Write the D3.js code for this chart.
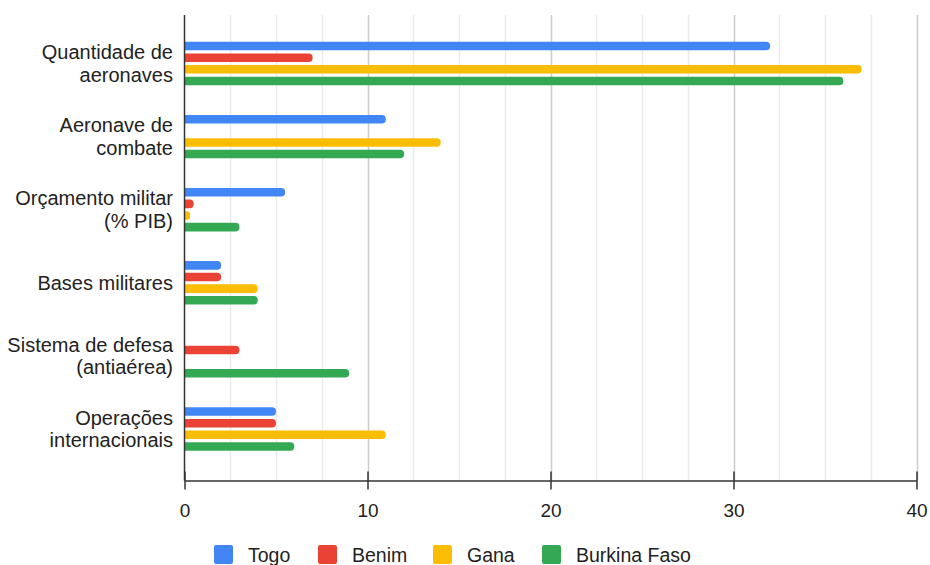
<!DOCTYPE html>
<html>
<head>
<meta charset="utf-8">
<script src="https://cdn.jsdelivr.net/npm/d3@7"></script>
<style>
  html, body { margin: 0; padding: 0; background: #fff; }
  svg { display: block; font-family: Arial, "Liberation Sans", sans-serif; }
</style>
</head>
<body>
<svg id="chart" width="930" height="565"></svg>
<script>
// Categories (each label split into display lines)
const categories = [
  ["Quantidade de", "aeronaves"],
  ["Aeronave de", "combate"],
  ["Orçamento militar", "(% PIB)"],
  ["Bases militares"],
  ["Sistema de defesa", "(antiaérea)"],
  ["Operações", "internacionais"]
];
const seriesNames = ["Togo", "Benim", "Gana", "Burkina Faso"];
const togo    = [32, 11, 5.5, 2, 0, 5];
const benim   = [7, 0, 0.5, 2, 3, 5];
const gana    = [37, 14, 0.3, 4, 0, 11];
const burkina = [36, 12, 3, 4, 9, 6];
const majorTicks = [0, 10, 20, 30, 40];
const minorTicks = [2.5, 5, 7.5, 12.5, 15, 17.5, 22.5, 25, 27.5, 32.5, 35, 37.5];

const colors = ["#4285F4", "#EA4335", "#FBBC04", "#34A853"];
const seriesValues = [togo, benim, gana, burkina];

const svg = d3.select("#chart");
const plot = { left: 184.5, right: 916.5, top: 15, bottom: 480.5 };

const x = d3.scaleLinear().domain([0, 40]).range([plot.left, plot.right]);
const catIdx = categories.map((_, i) => i);
const y0 = d3.scaleBand().domain(catIdx).range([26.9, 465.6]).padding(0);
const y1 = d3.scaleBand().domain(d3.range(seriesNames.length))
  .range([0, y0.bandwidth()]).paddingInner(0.267).paddingOuter(1.28);

// Gridlines
svg.append("g").selectAll("line").data(minorTicks).join("line")
  .attr("x1", d => Math.round(x(d)) + 0.5).attr("x2", d => Math.round(x(d)) + 0.5)
  .attr("y1", plot.top).attr("y2", plot.bottom)
  .attr("stroke", "#ebebeb").attr("stroke-width", 1.5);
svg.append("g").selectAll("line").data(majorTicks.slice(1)).join("line")
  .attr("x1", d => Math.round(x(d)) + 0.5).attr("x2", d => Math.round(x(d)) + 0.5)
  .attr("y1", plot.top).attr("y2", plot.bottom)
  .attr("stroke", "#cccccc").attr("stroke-width", 1.5);

// Bars with rounded right ends
const r = 4;
function barPath(x0, x1, yt, h) {
  const w = x1 - x0;
  const rr = Math.min(r, w / 2, h / 2);
  return `M${x0},${yt}H${x1 - rr}A${rr},${rr} 0 0 1 ${x1},${yt + rr}` +
         `V${yt + h - rr}A${rr},${rr} 0 0 1 ${x1 - rr},${yt + h}H${x0}Z`;
}
const barData = [];
seriesValues.forEach((vals, s) => vals.forEach((v, c) => {
  if (v > 0) barData.push({ s, c, v });
}));
svg.append("g").selectAll("path").data(barData).join("path")
  .attr("d", d => barPath(x(0), x(d.v), y0(d.c) + y1(d.s), y1.bandwidth()))
  .attr("fill", d => colors[d.s]);

// Axis lines
svg.append("line").attr("x1", plot.left).attr("x2", plot.left)
  .attr("y1", plot.top).attr("y2", plot.bottom)
  .attr("stroke", "#333").attr("stroke-width", 1.5);
const xAxis = d3.axisBottom(x).tickValues(majorTicks).tickSize(0).tickFormat(d3.format("d"));
const ax = svg.append("g").attr("transform", `translate(0,${plot.bottom})`).call(xAxis);
ax.select(".domain").attr("stroke", "#333").attr("stroke-width", 1.5);
ax.selectAll(".tick line").attr("y1", -9).attr("y2", 9).attr("stroke", "#333").attr("stroke-width", 1.5);
ax.selectAll(".tick text").attr("y", 30).attr("dy", "0.35em")
  .attr("fill", "#222").attr("font-size", 19).attr("font-family", "Arial, 'Liberation Sans', sans-serif");

// Category labels
const lineH = 22.5;
const labels = svg.append("g").selectAll("text").data(categories).join("text")
  .attr("text-anchor", "end").attr("font-size", 20).attr("fill", "#222");
labels.each(function (lines, i) {
  const cy = y0(i) + y0.bandwidth() / 2;
  d3.select(this).selectAll("tspan").data(lines).join("tspan")
    .attr("x", 173)
    .attr("y", (d, k) => cy + (k - (lines.length - 1) / 2) * lineH)
    .attr("dy", "0.35em")
    .text(d => d);
});

// Legend
const legendX = [214, 318, 433, 542];
const lg = svg.append("g").selectAll("g").data(seriesNames).join("g")
  .attr("transform", (d, i) => `translate(${legendX[i]},545)`);
lg.append("rect").attr("width", 19).attr("height", 19).attr("rx", 2)
  .attr("fill", (d, i) => colors[i]);
lg.append("text").attr("x", 34).attr("y", 10).attr("dy", "0.35em")
  .attr("font-size", 19.5).attr("fill", "#222").text(d => d);
</script>
</body>
</html>
